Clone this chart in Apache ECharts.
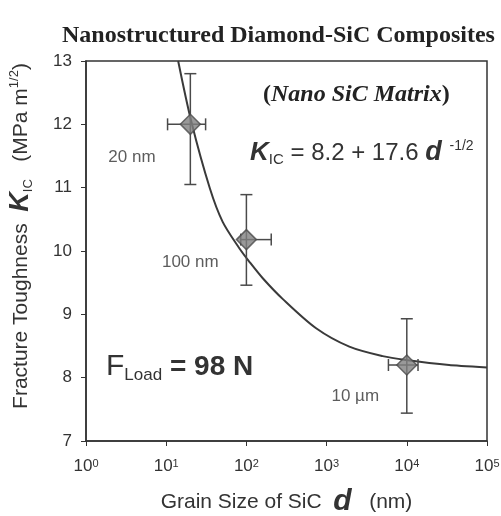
<!DOCTYPE html>
<html>
<head>
<meta charset="utf-8">
<script src="https://cdn.jsdelivr.net/npm/echarts@6/dist/echarts.min.js"></script>
<style>html,body{margin:0;padding:0;background:#fff;}#c{width:501px;height:516px;}</style>
</head>
<body>
<div id="c"></div>
<script>
// ---- data ----
const pointD = [20, 100, 10000];
const pointK = [12.0, 10.18, 8.2];
const kLow = [11.05, 9.46, 7.44];
const kHigh = [12.8, 10.89, 8.93];
const dLow = [10.4, 85, 5900];
const dHigh = [31, 204, 13800];
const pointLabels = ['20 nm', '100 nm', '10 \u00b5m'];

const curveD = [14.1, 20.6, 35, 50.6, 82, 109, 160, 285, 740, 1920, 5000, 9700, 33700, 100000];
const curveK = [13.0, 12.04, 10.99, 10.46, 10.04, 9.83, 9.57, 9.24, 8.78, 8.49, 8.34, 8.28, 8.20, 8.16];

const xTicks = [1, 10, 100, 1000, 10000, 100000];
const yTicks = [7, 8, 9, 10, 11, 12, 13];

const ink = '#333';
const sans = 'Liberation Sans, Arial, sans-serif';
const serif = 'Liberation Serif, Times New Roman, serif';

const chart = echarts.init(document.getElementById('c'), null, {renderer: 'canvas'});

const errData = pointD.map((d, i) => [d, pointK[i], kLow[i], kHigh[i], dLow[i], dHigh[i]]);
const labelOffsets = [[-19, 33], [-12, 23], [-12, 31]];

chart.setOption({
  backgroundColor: '#fff',
  animation: false,
  title: {
    text: 'Nanostructured Diamond-SiC Composites',
    left: 57, top: 19,
    textStyle: {fontFamily: serif, fontWeight: 'bold', fontSize: 24, color: '#222'}
  },
  grid: {left: 86, right: 14, top: 61, bottom: 75, outerBoundsMode: 'none', containLabel: false,
         show: true, borderColor: ink, borderWidth: 1.5, backgroundColor: 'transparent'},
  xAxis: {
    type: 'log', logBase: 10, min: xTicks[0], max: xTicks[xTicks.length - 1],
    splitLine: {show: false},
    axisLine: {lineStyle: {color: ink, width: 1.5}},
    axisTick: {show: true, length: 5, lineStyle: {color: ink}},
    minorTick: {show: false},
    axisLabel: {
      margin: 17,
      formatter: v => '{b|10}{e|' + Math.round(Math.log10(v)) + '}',
      rich: {
        b: {fontFamily: sans, fontSize: 17, color: ink},
        e: {fontFamily: sans, fontSize: 11, color: ink, verticalAlign: 'top', padding: [0, 0, 6, 0]}
      }
    },
    name: '{n|Grain Size of SiC  }{d|d}{n|   (nm)}',
    nameLocation: 'middle', nameGap: 46,
    nameTextStyle: {
      rich: {
        n: {fontFamily: sans, fontSize: 21, color: ink},
        d: {fontFamily: sans, fontSize: 30, fontWeight: 'bold', fontStyle: 'italic', color: ink}
      }
    }
  },
  yAxis: {
    type: 'value', min: yTicks[0], max: yTicks[yTicks.length - 1], interval: 1,
    splitLine: {show: false},
    axisLine: {show: true, lineStyle: {color: ink, width: 1.5}},
    axisTick: {show: true, length: 5, lineStyle: {color: ink}},
    axisLabel: {margin: 14, fontFamily: sans, fontSize: 17, color: ink}
  },
  graphic: [
    {
      type: 'text', x: 21, y: 236, rotation: Math.PI / 2,
      style: {
        text: '{n|Fracture Toughness  }{k|K}{s|IC}{n|   (MPa m}{p|1/2}{n|)}',
        align: 'center', verticalAlign: 'middle',
        rich: {
          n: {fontFamily: sans, fontSize: 21, fill: ink},
          k: {fontFamily: sans, fontSize: 27, fontWeight: 'bold', fontStyle: 'italic', fill: ink},
          s: {fontFamily: sans, fontSize: 13, fill: ink, verticalAlign: 'bottom', padding: [9, 0, 0, 0]},
          p: {fontFamily: sans, fontSize: 13, fill: ink, verticalAlign: 'top', padding: [0, 0, 9, 0]}
        }
      }
    },
    {
      type: 'text', x: 263, y: 95,
      style: {
        text: '{a|(}{b|Nano SiC Matrix}{a|)}',
        verticalAlign: 'middle',
        rich: {
          a: {fontFamily: serif, fontSize: 24, fontWeight: 'bold', fill: '#222'},
          b: {fontFamily: serif, fontSize: 24, fontWeight: 'bold', fontStyle: 'italic', fill: '#222'}
        }
      }
    },
    {
      type: 'text', x: 250, y: 153,
      style: {
        text: '{k|K}{s|IC}{n| = 8.2 + 17.6 }{d|d}{p|  -1/2}',
        verticalAlign: 'middle',
        rich: {
          k: {fontFamily: sans, fontSize: 26, fontWeight: 'bold', fontStyle: 'italic', fill: ink},
          s: {fontFamily: sans, fontSize: 15, fill: ink, verticalAlign: 'bottom', padding: [12, 0, 0, 0]},
          n: {fontFamily: sans, fontSize: 24, fill: ink},
          d: {fontFamily: sans, fontSize: 27, fontWeight: 'bold', fontStyle: 'italic', fill: ink},
          p: {fontFamily: sans, fontSize: 14, fill: ink, verticalAlign: 'top', padding: [0, 0, 14, 0]}
        }
      }
    },
    {
      type: 'text', x: 106, y: 367,
      style: {
        text: '{f|F}{s|Load}{n| = 98 N}',
        verticalAlign: 'middle',
        rich: {
          f: {fontFamily: sans, fontSize: 30, fill: ink},
          s: {fontFamily: sans, fontSize: 17, fill: ink, verticalAlign: 'bottom', padding: [16, 0, 0, 0]},
          n: {fontFamily: sans, fontSize: 28, fontWeight: 'bold', fill: ink}
        }
      }
    }
  ],
  series: [
    {
      type: 'line', data: curveD.map((d, i) => [d, curveK[i]]),
      showSymbol: false, smooth: 0.3, clip: true,
      lineStyle: {color: '#3a3a3a', width: 2}, z: 2
    },
    {
      type: 'custom', z: 3,
      data: errData,
      encode: {x: [0, 4, 5], y: [1, 2, 3]},
      renderItem: (params, api) => {
        const d = api.value(0), k = api.value(1);
        const lo = api.coord([d, api.value(2)]);
        const hi = api.coord([d, api.value(3)]);
        const le = api.coord([api.value(4), k]);
        const ri = api.coord([api.value(5), k]);
        const c = 6;
        const st = {stroke: '#4a4a4a', lineWidth: 1.5};
        const ln = (x1, y1, x2, y2) => ({type: 'line', shape: {x1, y1, x2, y2}, style: st});
        return {type: 'group', children: [
          ln(lo[0], lo[1], hi[0], hi[1]),
          ln(lo[0] - c, lo[1], lo[0] + c, lo[1]),
          ln(hi[0] - c, hi[1], hi[0] + c, hi[1]),
          ln(le[0], le[1], ri[0], ri[1]),
          ln(le[0], le[1] - c, le[0], le[1] + c),
          ln(ri[0], ri[1] - c, ri[0], ri[1] + c)
        ]};
      }
    },
    {
      type: 'scatter', z: 4,
      data: pointD.map((d, i) => ({
        value: [d, pointK[i]],
        label: {offset: labelOffsets[i]}
      })),
      symbol: 'diamond', symbolSize: 20,
      itemStyle: {color: '#7f7f7f', borderColor: '#4a4a4a', borderWidth: 1.5},
      label: {
        show: true, position: 'left',
        formatter: p => pointLabels[p.dataIndex],
        fontFamily: sans, fontSize: 17, color: ink
      }
    }
  ]
});
</script>
</body>
</html>
